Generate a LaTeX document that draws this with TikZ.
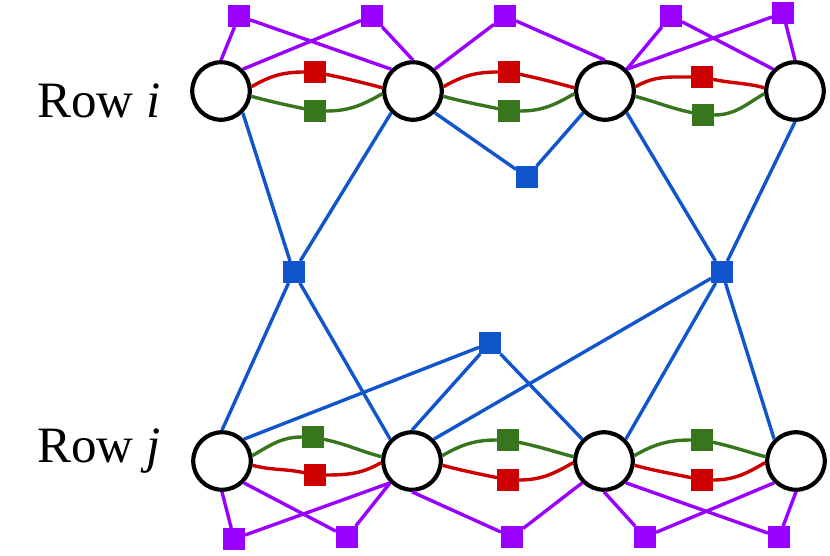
\documentclass[tikz,border=0pt]{standalone}
\usepackage{fontspec}
\setmainfont{Liberation Serif}
\definecolor{cpurple}{HTML}{9900FF}
\definecolor{cred}{HTML}{CC0000}
\definecolor{cgreen}{HTML}{38761D}
\definecolor{cblue}{HTML}{1155CC}
\begin{document}
\begin{tikzpicture}[x=1pt,y=1pt,
  circ/.style={circle,draw=black,line width=4.2pt,fill=white,minimum size=57.5pt,inner sep=0pt},
  sq/.style={rectangle,minimum size=22pt,inner sep=0pt,outer sep=0pt,fill=#1},
  edge/.style={line width=3.4pt,draw=#1},
  lbl/.style={anchor=base west,inner sep=0pt,font=\fontsize{51}{60}\selectfont}]
\useasboundingbox (0,0) rectangle (830,-555);
% circles
\node[circ] (A1) at (221,-91) {};
\node[circ] (A2) at (413,-91) {};
\node[circ] (A3) at (605,-91) {};
\node[circ] (A4) at (795,-91) {};
\node[circ] (B1) at (222,-461) {};
\node[circ] (B2) at (412,-461) {};
\node[circ] (B3) at (604,-461) {};
\node[circ] (B4) at (796,-461) {};
% labels
\node[lbl] (li) at (37,-117) {Row \textit{i}};
\node[lbl] (lj) at (37,-462) {Row \textit{j}};
% purple squares
\node[sq=cpurple] (P1) at (239,-16) {};
\node[sq=cpurple] (P2) at (372,-16) {};
\node[sq=cpurple] (P3) at (505,-16) {};
\node[sq=cpurple] (P4) at (671,-16) {};
\node[sq=cpurple] (P5) at (783,-13) {};
\node[sq=cpurple] (Q1) at (234,-539) {};
\node[sq=cpurple] (Q2) at (347,-537) {};
\node[sq=cpurple] (Q3) at (512,-537) {};
\node[sq=cpurple] (Q4) at (645,-537) {};
\node[sq=cpurple] (Q5) at (779,-537) {};
% red / green squares
\node[sq=cred] (RA1) at (315,-72) {};
\node[sq=cred] (RA2) at (509,-72) {};
\node[sq=cred] (RA3) at (702,-77) {};
\node[sq=cgreen] (GA1) at (315,-111) {};
\node[sq=cgreen] (GA2) at (509,-111) {};
\node[sq=cgreen] (GA3) at (703,-115) {};
\node[sq=cgreen] (GB1) at (313,-437) {};
\node[sq=cgreen] (GB2) at (508,-440) {};
\node[sq=cgreen] (GB3) at (702,-440) {};
\node[sq=cred] (RB1) at (315,-475) {};
\node[sq=cred] (RB2) at (508,-480) {};
\node[sq=cred] (RB3) at (702,-480) {};
% blue squares
\node[sq=cblue] (U) at (527,-177) {};
\node[sq=cblue] (L) at (293.5,-272) {};
\node[sq=cblue] (R) at (722,-272) {};
\node[sq=cblue] (D) at (490,-343) {};
% purple edges top
\draw[edge=cpurple] (P1) -- (A1.north);
\draw[edge=cpurple] (P1) -- (A2.north west);
\draw[edge=cpurple] (P2) -- (A1.north east);
\draw[edge=cpurple] (P2) -- (A2.north);
\draw[edge=cpurple] (P3) -- (A2.north east);
\draw[edge=cpurple] (P3) -- (A3.north);
\draw[edge=cpurple] (P4) -- (A3.north east);
\draw[edge=cpurple] (P4) -- (A4.north west);
\draw[edge=cpurple] (P5) -- (A3.north east);
\draw[edge=cpurple] (P5) -- (A4.north);
% purple edges bottom
\draw[edge=cpurple] (Q1) -- (B1.south);
\draw[edge=cpurple] (Q1) -- (B2.south west);
\draw[edge=cpurple] (Q2) -- (B1.south east);
\draw[edge=cpurple] (Q2) -- (B2.south west);
\draw[edge=cpurple] (Q3) -- (B2.south);
\draw[edge=cpurple] (Q3) -- (B3.south west);
\draw[edge=cpurple] (Q4) -- (B3.south);
\draw[edge=cpurple] (Q4) -- (B4.south west);
\draw[edge=cpurple] (Q5) -- (B3.south east);
\draw[edge=cpurple] (Q5) -- (B4.south);
% blue edges
\draw[edge=cblue] (A1.south east) -- (L);
\draw[edge=cblue] (A2.south west) -- (L);
\draw[edge=cblue] (A2.south east) -- (U);
\draw[edge=cblue] (A3.south west) -- (U);
\draw[edge=cblue] (A3.south east) -- (R);
\draw[edge=cblue] (A4.south) -- (R);
\draw[edge=cblue] (B1.north) -- (L);
\draw[edge=cblue] (B2.north west) -- (L);
\draw[edge=cblue] (B1.north east) -- (D);
\draw[edge=cblue] (B2.north) -- (D);
\draw[edge=cblue] (B3.north west) -- (D);
\draw[edge=cblue] (B2.north east) -- (R);
\draw[edge=cblue] (B3.north east) -- (R);
\draw[edge=cblue] (B4.north west) -- (R);
% top row curves
\draw[edge=cred] (A1.8) to[out=30,in=180] (RA1) to[out=-12,in=165] (A2.174);
\draw[edge=cgreen] (A1.-10) to[out=-15,in=168] (GA1) to[out=0,in=210] (A2.185);
\draw[edge=cred] (A2.8) to[out=30,in=180] (RA2) to[out=-12,in=165] (A3.174);
\draw[edge=cgreen] (A2.-10) to[out=-15,in=168] (GA2) to[out=0,in=210] (A3.185);
\draw[edge=cred] (A3.8) to[out=30,in=180] (RA3) to[out=-12,in=165] (A4.174);
\draw[edge=cgreen] (A3.-10) to[out=-15,in=168] (GA3) to[out=0,in=210] (A4.185);
% bottom row curves
\draw[edge=cgreen] (B1.10) to[out=30,in=180] (GB1) to[out=-12,in=165] (B2.172);
\draw[edge=cred] (B1.-8) to[out=-15,in=168] (RB1) to[out=0,in=210] (B2.183);
\draw[edge=cgreen] (B2.10) to[out=30,in=180] (GB2) to[out=-12,in=165] (B3.172);
\draw[edge=cred] (B2.-8) to[out=-15,in=168] (RB2) to[out=0,in=210] (B3.183);
\draw[edge=cgreen] (B3.10) to[out=30,in=180] (GB3) to[out=-12,in=165] (B4.172);
\draw[edge=cred] (B3.-8) to[out=-15,in=168] (RB3) to[out=0,in=210] (B4.183);
\end{tikzpicture}
\end{document}
